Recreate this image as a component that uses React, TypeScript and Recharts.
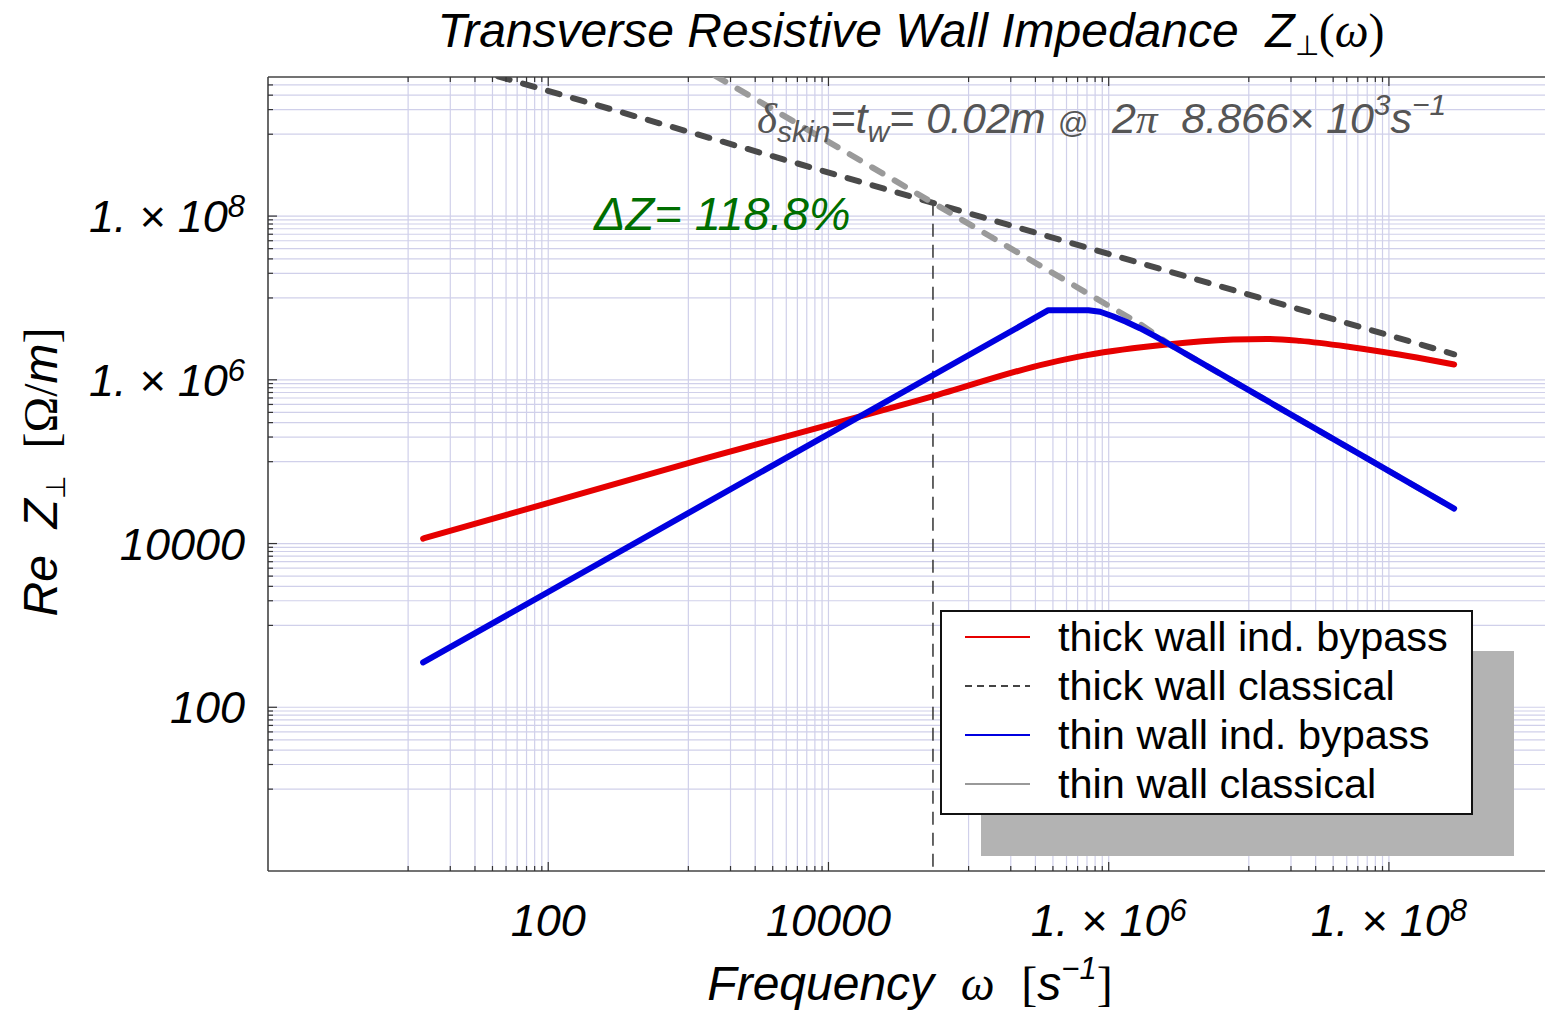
import React from "react";
import {
  LineChart,
  Line,
  XAxis,
  YAxis,
  CartesianGrid,
  ReferenceLine,
  Legend,
} from "recharts";

const SANS = "'Liberation Sans', Arial, Helvetica, sans-serif";
const SERIF = "'Liberation Serif', 'Times New Roman', serif";

const CHART_W = 1545;
const CHART_H = 1012;
const PLOT_TOP = 77;
const PLOT_BOTTOM = 871;

// omega [1/s] and Re Z_perp [Ohm/m]
const thickBypassW = [12.8, 1000, 5.37e4, 3.61e5, 6.98e5, 2.6e6, 7.73e6, 1.34e7, 2.32e7, 5.28e7, 9.14e7, 1.58e8, 2.92e8];
const thickBypassZ = [1.15e4, 9.6e4, 6.18e5, 1.58e6, 2.0e6, 2.7e6, 3.1e6, 3.16e6, 2.99e6, 2.52e6, 2.19e6, 1.87e6, 1.54e6];

const thickClassicalW = [12.8, 5.57e4, 2.92e8];
const thickClassicalZ = [9.4e9, 1.45e8, 2.05e6];

const thinBypassW = [12.8, 3.71e5, 7.16e5, 8.68e5, 1.07e6, 1.33e6, 1.67e6, 2.14e6, 2.74e6, 2.92e8];
const thinBypassZ = [353, 7.08e6, 7.08e6, 6.79e6, 5.98e6, 5.12e6, 4.27e6, 3.41e6, 2.68e6, 2.67e4];

const thinClassicalW = [12.8, 5.57e4, 1.07e6, 1.67e6, 2.74e6, 2.92e8];
const thinClassicalZ = [6.3e11, 1.45e8, 7.5e6, 4.83e6, 2.68e6, 2.67e4];

// skin depth = wall thickness at omega = 2 pi 8866
const skinW = 5.57e4;
const skinZ = 1.45e8;

const xDomain = [1, 1.3e9];
const yDomain = [1, 5e9];

const majorTicks = [100, 1e4, 1e6, 1e8];
const majorLabels = ["100", "10000", "1. × 10^6", "1. × 10^8"];

const xGridDecades = [10, 1e3, 1e5, 1e7];
const yGridDecades = [10, 1e3, 1e5, 1e7, 1e9];
const gridSteps = [1, 2, 3, 4, 5, 6, 7, 8, 9, 10];

const legendItems = [
  { name: "thick wall ind. bypass", color: "#e60000", dash: undefined },
  { name: "thick wall classical", color: "#444444", dash: "7 5" },
  { name: "thin wall ind. bypass", color: "#0000e0", dash: undefined },
  { name: "thin wall classical", color: "#999999", dash: undefined },
];

const zip = (w: number[], z: number[]) => w.map((v, i) => ({ w: v, z: z[i] }));

const gridTicks = (decades: number[], max: number) =>
  decades.flatMap((d) => gridSteps.map((k) => k * d)).filter((v) => v < max);

const xTicks = gridTicks(xGridDecades, xDomain[1]);
const yTicks = gridTicks(yGridDecades, yDomain[1]);

const majorIndex = (v: number) =>
  majorTicks.findIndex((m) => Math.abs(Math.log10(v) - Math.log10(m)) < 1e-6);

function TickLabel({ x, y, label, anchor }: { x: number; y: number; label: string; anchor: string }) {
  const [base, exp] = label.split("^");
  return (
    <text
      x={x}
      y={y}
      textAnchor={anchor as any}
      fontFamily={SANS}
      fontStyle="italic"
      fontSize={45}
      fill="#000"
      style={{ whiteSpace: "pre" }}
    >
      {base}
      {exp && (
        <tspan fontSize={31} dy={-15}>
          {exp}
        </tspan>
      )}
    </text>
  );
}

function XTick(props: any) {
  const { x, payload } = props;
  const idx = majorIndex(payload.value);
  const len = idx >= 0 ? 9 : 5;
  return (
    <g>
      <line x1={x} x2={x} y1={PLOT_BOTTOM} y2={PLOT_BOTTOM - len} stroke="#333" strokeWidth={1.2} />
      <line x1={x} x2={x} y1={PLOT_TOP} y2={PLOT_TOP + len} stroke="#333" strokeWidth={1.2} />
      {idx >= 0 && <TickLabel x={x} y={PLOT_BOTTOM + 65} label={majorLabels[idx]} anchor="middle" />}
    </g>
  );
}

function YTick(props: any) {
  const { y, payload } = props;
  const idx = majorIndex(payload.value);
  const len = idx >= 0 ? 9 : 5;
  return (
    <g>
      <line x1={268} x2={268 + len} y1={y} y2={y} stroke="#333" strokeWidth={1.2} />
      {idx >= 0 && <TickLabel x={245} y={y + 16} label={majorLabels[idx]} anchor="end" />}
    </g>
  );
}

const renderLegend = () => (
  <div
    style={{
      width: 533,
      height: 205,
      boxSizing: "border-box",
      border: "2px solid #111",
      background: "#fff",
      boxShadow: "41px 41px 0 #b3b3b3",
    }}
  >
    <svg width={529} height={201}>
      {legendItems.map((it, i) => (
        <g key={it.name}>
          <line
            x1={23}
            x2={88}
            y1={25 + 49 * i}
            y2={25 + 49 * i}
            stroke={it.color}
            strokeWidth={1.8}
            strokeDasharray={it.dash}
          />
          <text x={116} y={39 + 49 * i} fontSize={41.5} fontFamily={SANS} fill="#000">
            {it.name}
          </text>
        </g>
      ))}
    </svg>
  </div>
);

export default function App() {
  return (
    <div style={{ position: "absolute", left: 0, top: 0, width: CHART_W, height: CHART_H, background: "#fff" }}>
      <LineChart width={CHART_W} height={CHART_H} margin={{ top: PLOT_TOP, right: 0, bottom: 0, left: 0 }}>
        <CartesianGrid stroke="#d0d0ea" strokeWidth={1.2} syncWithTicks />
        <XAxis
          dataKey="w"
          type="number"
          scale="log"
          domain={xDomain}
          allowDataOverflow
          ticks={xTicks}
          interval={0}
          height={CHART_H - PLOT_BOTTOM}
          tick={<XTick />}
          tickLine={false}
          axisLine={{ stroke: "#444", strokeWidth: 1.6 }}
        />
        <YAxis
          type="number"
          scale="log"
          domain={yDomain}
          allowDataOverflow
          ticks={yTicks}
          interval={0}
          width={268}
          tick={<YTick />}
          tickLine={false}
          axisLine={{ stroke: "#444", strokeWidth: 1.6 }}
        />
        <ReferenceLine y={yDomain[1]} stroke="#444" strokeWidth={1.6} ifOverflow="visible" />
        <ReferenceLine
          segment={[
            { x: skinW, y: skinZ },
            { x: skinW, y: yDomain[0] },
          ]}
          stroke="#333"
          strokeWidth={1.5}
          strokeDasharray="13 8"
          ifOverflow="visible"
        />
        <Line
          data={zip(thickBypassW, thickBypassZ)}
          dataKey="z"
          name="thick wall ind. bypass"
          type="monotone"
          stroke="#e60000"
          strokeWidth={6}
          strokeLinecap="round"
          strokeLinejoin="round"
          dot={false}
          activeDot={false}
          isAnimationActive={false}
        />
        <Line
          data={zip(thickClassicalW, thickClassicalZ)}
          dataKey="z"
          name="thick wall classical"
          stroke="#4a4a4a"
          strokeWidth={6}
          strokeDasharray="12 14"
          strokeLinecap="round"
          dot={false}
          activeDot={false}
          isAnimationActive={false}
        />
        <Line
          data={zip(thinClassicalW, thinClassicalZ)}
          dataKey="z"
          name="thin wall classical"
          stroke="#9a9a9a"
          strokeWidth={6}
          strokeDasharray="12 14"
          strokeLinecap="round"
          dot={false}
          activeDot={false}
          isAnimationActive={false}
        />
        <Line
          data={zip(thinBypassW, thinBypassZ)}
          dataKey="z"
          name="thin wall ind. bypass"
          stroke="#0000e0"
          strokeWidth={6}
          strokeLinecap="round"
          strokeLinejoin="round"
          dot={false}
          activeDot={false}
          isAnimationActive={false}
        />
        <Legend
          content={renderLegend}
          layout="horizontal"
          verticalAlign="middle"
          align="center"
          wrapperStyle={{ left: 940, top: 610, width: 533, height: 205 }}
        />
      </LineChart>

      <svg
        width={CHART_W}
        height={CHART_H}
        style={{ position: "absolute", left: 0, top: 0, pointerEvents: "none" }}
      >
        <text
          x={911}
          y={47}
          textAnchor="middle"
          fontSize={48}
          fontStyle="italic"
          fontFamily={SANS}
          fill="#000"
          style={{ whiteSpace: "pre" }}
        >
          Transverse Resistive Wall Impedance  Z
          <tspan fontSize={28} dy={8} fontStyle="normal">⊥</tspan>
          <tspan dy={-8} fontFamily={SERIF} fontStyle="normal">(</tspan>
          <tspan fontFamily={SERIF}>ω</tspan>
          <tspan fontFamily={SERIF} fontStyle="normal">)</tspan>
        </text>

        <text
          x={910}
          y={1000}
          textAnchor="middle"
          fontSize={48}
          fontStyle="italic"
          fontFamily={SANS}
          fill="#000"
          style={{ whiteSpace: "pre" }}
        >
          {"Frequency  "}
          <tspan fontFamily={SERIF}>ω</tspan>
          {"  "}
          <tspan fontFamily={SERIF} fontStyle="normal">[</tspan>
          s
          <tspan fontSize={31} dy={-21}>−1</tspan>
          <tspan dy={21} fontFamily={SERIF} fontStyle="normal">]</tspan>
        </text>

        <text
          transform="translate(57,472) rotate(-90)"
          textAnchor="middle"
          fontSize={48}
          fontStyle="italic"
          fontFamily={SANS}
          fill="#000"
          style={{ whiteSpace: "pre" }}
        >
          {"Re  Z"}
          <tspan fontSize={27} dy={8} fontStyle="normal">⊥</tspan>
          <tspan dy={-8}>{"  "}</tspan>
          <tspan fontFamily={SERIF} fontStyle="normal">[Ω/</tspan>
          <tspan>m</tspan>
          <tspan fontFamily={SERIF} fontStyle="normal">]</tspan>
        </text>

        <text
          x={757}
          y={133}
          fontSize={43}
          fontStyle="italic"
          fontFamily={SANS}
          fill="#555"
          style={{ whiteSpace: "pre" }}
        >
          <tspan fontFamily={SERIF}>δ</tspan>
          <tspan fontSize={30} dy={9}>skin</tspan>
          <tspan dy={-9}>=t</tspan>
          <tspan fontSize={30} dy={9}>w</tspan>
          <tspan dy={-9}>{"= 0.02m "}</tspan>
          <tspan fontSize={30}>@</tspan>
          <tspan>{"  2"}</tspan>
          <tspan fontFamily={SERIF}>π</tspan>
          <tspan>{"  8.866× 10"}</tspan>
          <tspan fontSize={30} dy={-18}>3</tspan>
          <tspan dy={18}>s</tspan>
          <tspan fontSize={30} dy={-18}>−1</tspan>
        </text>

        <text x={594} y={230} fontSize={47} fontStyle="italic" fontFamily={SANS} fill="#006e00" style={{ whiteSpace: "pre" }}>
          ΔZ= 118.8%
        </text>
      </svg>
    </div>
  );
}
